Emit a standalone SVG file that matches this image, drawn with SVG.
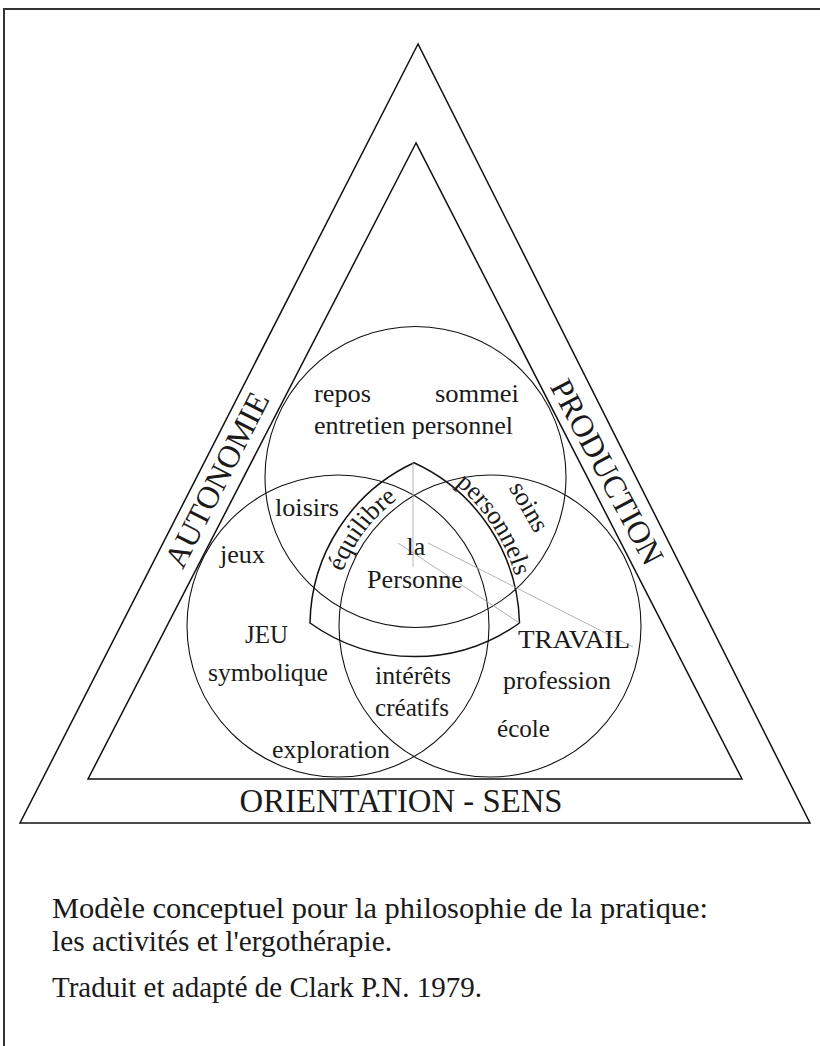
<svg xmlns="http://www.w3.org/2000/svg" width="820" height="1046" viewBox="0 0 820 1046">
<style>
.t{font-family:"Liberation Serif","Times New Roman",serif;fill:#1a1a1a;font-size:26px}
.cap{font-size:32px}
.cp{font-size:29px}
.line{fill:none;stroke:#111;stroke-width:1.5}
.circ{fill:none;stroke:#111;stroke-width:1.1}
.thin{fill:none;stroke:#aaa;stroke-width:0.9}
.frame{fill:none;stroke:#333;stroke-width:2}
</style>
<defs>
<path id="eqArc" d="M336.4,593.4 A157,157 0 0 1 416.3,487.4"/>
<path id="persArc" d="M435.5,470 A184,184 0 0 1 520.2,600.4"/>
</defs>
<rect width="820" height="1046" fill="#fff"/>
<g id="frame"><path class="frame" d="M4,1046 V9 H820"/></g>
<g id="outer-triangle"><path class="line" d="M418,44 L20,823 L810,823 Z"/></g>
<g id="inner-triangle"><path class="line" d="M416,143 L88,779 L742,779 Z"/></g>
<g id="circle-top"><circle class="circ" cx="415.5" cy="477" r="150.5"/></g>
<g id="circle-left"><circle class="circ" cx="338" cy="626" r="151"/></g>
<g id="circle-right"><circle class="circ" cx="490" cy="626" r="151"/></g>
<g id="centre-shape"><path class="line" d="M414,462.8 A180,180 0 0 0 310,623 A180,180 0 0 0 519.5,623 A181,181 0 0 0 414,462.8 Z"/></g>
<g id="connectors">
<path class="thin" d="M413,462.8 V567"/>
<path class="thin" d="M398,543 L519.5,623"/>
<path class="thin" d="M428,543 L633,647"/>
</g>
<g id="labels-sides">
<text class="t cap" transform="translate(217,480) rotate(-63)" text-anchor="middle" dy="0.33em" textLength="192" lengthAdjust="spacingAndGlyphs">AUTONOMIE</text>
<text class="t cap" transform="translate(607,472) rotate(62)" text-anchor="middle" dy="0.33em" textLength="205" lengthAdjust="spacingAndGlyphs">PRODUCTION</text>
<text class="t cap" x="401" y="812" text-anchor="middle" textLength="323" lengthAdjust="spacingAndGlyphs" style="font-size:34px">ORIENTATION - SENS</text>
</g>
<g id="node-top">
<text class="t" x="314" y="402" textLength="57" lengthAdjust="spacingAndGlyphs">repos</text>
<text class="t" x="435" y="402" textLength="84" lengthAdjust="spacingAndGlyphs">sommei</text>
<text class="t" x="314" y="434" textLength="199" lengthAdjust="spacingAndGlyphs">entretien personnel</text>
</g>
<g id="node-loisirs"><text class="t" x="275" y="516" textLength="64" lengthAdjust="spacingAndGlyphs">loisirs</text></g>
<g id="node-jeux"><text class="t" x="220" y="563" textLength="45" lengthAdjust="spacingAndGlyphs">jeux</text></g>
<g id="node-equilibre"><text class="t"><textPath href="#eqArc" startOffset="50%" text-anchor="middle">équilibre</textPath></text></g>
<g id="node-personnels"><text class="t"><textPath href="#persArc" startOffset="50%" text-anchor="middle">personnels</textPath></text></g>
<g id="node-soins"><text class="t" transform="translate(527,508) rotate(60)" text-anchor="middle" dy="0.23em">soins</text></g>
<g id="node-personne">
<text class="t" x="416" y="555" text-anchor="middle">la</text>
<text class="t" x="415" y="588" text-anchor="middle" textLength="96" lengthAdjust="spacingAndGlyphs">Personne</text>
</g>
<g id="node-jeu">
<text class="t" x="245" y="643" textLength="43" lengthAdjust="spacingAndGlyphs">JEU</text>
<text class="t" x="208" y="681" textLength="120" lengthAdjust="spacingAndGlyphs">symbolique</text>
<text class="t" x="272" y="758" textLength="118" lengthAdjust="spacingAndGlyphs">exploration</text>
</g>
<g id="node-interets">
<text class="t" x="375" y="684" textLength="76" lengthAdjust="spacingAndGlyphs">intérêts</text>
<text class="t" x="375" y="716" textLength="74" lengthAdjust="spacingAndGlyphs">créatifs</text>
</g>
<g id="node-travail">
<text class="t" x="518" y="648" textLength="112" lengthAdjust="spacingAndGlyphs">TRAVAIL</text>
<text class="t" x="503" y="689" textLength="108" lengthAdjust="spacingAndGlyphs">profession</text>
<text class="t" x="497" y="737" textLength="53" lengthAdjust="spacingAndGlyphs">école</text>
</g>
<g id="caption">
<text class="t cp" x="52" y="918" textLength="656" lengthAdjust="spacingAndGlyphs">Modèle conceptuel pour la philosophie de la pratique:</text>
<text class="t cp" x="52" y="951" textLength="340" lengthAdjust="spacingAndGlyphs">les activités et l'ergothérapie.</text>
<text class="t cp" x="52" y="997" textLength="430" lengthAdjust="spacingAndGlyphs">Traduit et adapté de Clark P.N. 1979.</text>
</g>
</svg>
